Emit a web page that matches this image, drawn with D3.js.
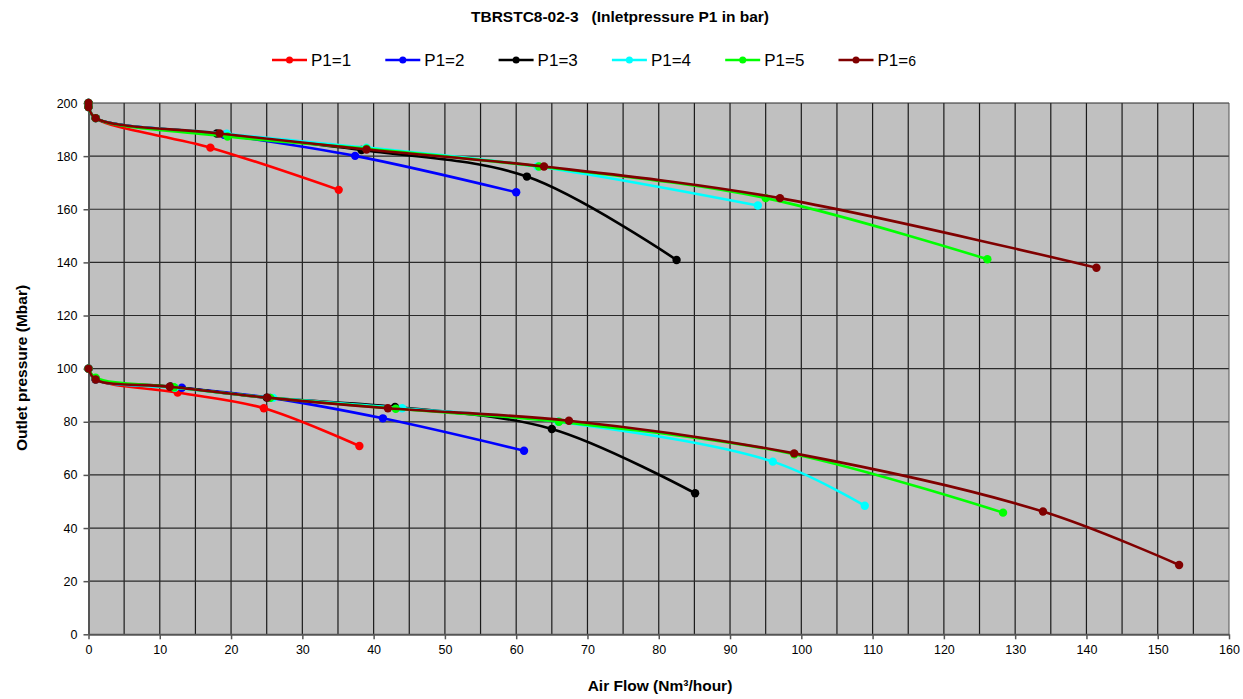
<!DOCTYPE html>
<html lang="en">
<head>
<meta charset="UTF-8">
<title>TBRSTC8-02-3</title>
<script src="https://d3js.org/d3.v7.min.js"></script>
<style>
  body { margin: 0; background: #fff; }
  svg text { font-family: "Liberation Sans", Arial, sans-serif; fill: #000; }
</style>
</head>
<body>
<div id="chart"></div>
<script>
// series labels and colours
const seriesNames = ["P1=1", "P1=2", "P1=3", "P1=4", "P1=5", "P1=6"];
const seriesColors = ["#ff0000", "#0000ff", "#000000", "#00ffff", "#00ff00", "#800000"];

// upper curves (flow, pressure)
const p1Upper = [[0, 200], [0, 198.5], [1, 194.3], [17.1, 183.2], [35.1, 167.3]];
const p2Upper = [[0, 200], [0, 198.5], [1, 194.3], [19, 188], [37.4, 180.1], [60, 166.4]];
const p3Upper = [[0, 200], [0, 198.5], [1, 194.3], [18, 188.5], [38.3, 182.3], [61.5, 172.3], [82.5, 140.9]];
const p4Upper = [[0, 200], [0, 198.5], [1, 194.3], [19.4, 188.4], [39, 183.2], [63, 176.1], [93.9, 161.4]];
const p5Upper = [[0, 200], [0, 198.5], [1, 194.3], [19.5, 187.4], [39, 182.8], [63.2, 176.1], [95, 164.2], [126.1, 141.2]];
const p6Upper = [[0, 200], [0, 198.5], [1, 194.3], [18.4, 188.5], [39, 182.5], [63.9, 176.1], [97, 164.2], [141.4, 138.0]];

// lower curves (flow, pressure)
const p1Lower = [[0, 100], [1, 96], [12.5, 91], [24.6, 85.1], [38, 70.9]];
const p2Lower = [[0, 100], [1, 96], [13.1, 92.8], [25.5, 89], [41.3, 81.3], [61.1, 69.1]];
const p3Lower = [[0, 100], [1, 96], [11.5, 93.3], [25, 89.1], [43, 85.6], [65, 77.3], [85.1, 53.1]];
const p4Lower = [[0, 100], [1, 96], [12.1, 92.8], [25.9, 89], [44, 85.1], [65.9, 80], [96, 65], [108.9, 48.4]];
const p5Lower = [[0, 100], [1, 96.6], [12, 93], [25.5, 89], [43.1, 84.9], [66, 80], [99, 67.8], [128.3, 45.8]];
const p6Lower = [[0, 100], [1, 95.9], [11.4, 93.2], [25.1, 89.1], [42, 85.1], [67.4, 80.4], [99, 68.1], [133.9, 46.2], [153, 26.1]];

const upperSets = [p1Upper, p2Upper, p3Upper, p4Upper, p5Upper, p6Upper];
const lowerSets = [p1Lower, p2Lower, p3Lower, p4Lower, p5Lower, p6Lower];

// axis ticks
const xTicks = d3.range(0, 161, 10);
const xGrid = d3.range(5, 160, 5);
const yTicks = d3.range(0, 201, 20);

const width = 1243, height = 699;
const plotLeft = 88.5, plotRight = 1229, plotTop = 103, plotBottom = 634.3;

const svg = d3.select("#chart").append("svg")
    .attr("width", width)
    .attr("height", height);

const x = d3.scaleLinear().domain([0, 160]).range([plotLeft, plotRight]);
const y = d3.scaleLinear().domain([0, 200]).range([plotBottom, plotTop]);

// plot background
svg.append("rect")
    .attr("x", plotLeft).attr("y", plotTop)
    .attr("width", plotRight - plotLeft).attr("height", plotBottom - plotTop)
    .attr("fill", "#c0c0c0");

// gridlines
svg.append("g").selectAll("line")
    .data(xGrid)
    .enter().append("line")
    .attr("x1", d => x(d)).attr("x2", d => x(d))
    .attr("y1", plotTop).attr("y2", plotBottom)
    .attr("stroke", "#1a1a1a").attr("stroke-width", 1.2);

svg.append("g").selectAll("line")
    .data(yTicks.filter(d => d > 0))
    .enter().append("line")
    .attr("x1", plotLeft).attr("x2", plotRight)
    .attr("y1", d => y(d)).attr("y2", d => y(d))
    .attr("stroke", "#2a2a2a").attr("stroke-width", 1.2);

// axes
const xAxis = svg.append("g")
    .attr("transform", `translate(0,${plotBottom})`)
    .call(d3.axisBottom(x).tickValues(xTicks).tickSize(5).tickPadding(6).tickSizeOuter(0));
const yAxis = svg.append("g")
    .attr("transform", `translate(${plotLeft},0)`)
    .call(d3.axisLeft(y).tickValues(yTicks).tickSize(5).tickPadding(6).tickSizeOuter(0));

[xAxis, yAxis].forEach(ax => {
    ax.select(".domain").attr("stroke", "#555").attr("stroke-width", 2);
    ax.selectAll(".tick line").attr("stroke", "#555").attr("stroke-width", 1.5);
    ax.selectAll(".tick text").attr("font-size", 12.5).attr("fill", "#000")
        .attr("font-family", "'Liberation Sans', Arial, sans-serif");
});

// right border
svg.append("line")
    .attr("x1", plotRight).attr("x2", plotRight).attr("y1", plotTop).attr("y2", plotBottom)
    .attr("stroke", "#555").attr("stroke-width", 1);

// curves
const line = d3.line()
    .x(d => x(d[0]))
    .y(d => y(d[1]))
    .curve(d3.curveCatmullRom.alpha(0.5));

const curves = svg.append("g");
seriesNames.forEach((name, i) => {
    [upperSets[i], lowerSets[i]].forEach(pts => {
        curves.append("path")
            .datum(pts)
            .attr("d", line)
            .attr("fill", "none")
            .attr("stroke", seriesColors[i])
            .attr("stroke-width", 2.6);
        curves.append("g").selectAll("circle")
            .data(pts)
            .enter().append("circle")
            .attr("cx", d => x(d[0]))
            .attr("cy", d => y(d[1]))
            .attr("r", 4.2)
            .attr("fill", seriesColors[i]);
    });
});

// title
svg.append("text")
    .attr("x", 620).attr("y", 22)
    .attr("text-anchor", "middle")
    .attr("font-size", 15.5).attr("font-weight", "bold")
    .attr("xml:space", "preserve")
    .text("TBRSTC8-02-3   (Inletpressure P1 in bar)");

// legend
const legend = svg.append("g");
seriesNames.forEach((name, i) => {
    const lx = 272 + i * 113.3;
    legend.append("line")
        .attr("x1", lx).attr("x2", lx + 35)
        .attr("y1", 60).attr("y2", 60)
        .attr("stroke", seriesColors[i]).attr("stroke-width", 2.6);
    legend.append("circle")
        .attr("cx", lx + 17.5).attr("cy", 60).attr("r", 3.5)
        .attr("fill", seriesColors[i]);
    const t = legend.append("text")
        .attr("x", lx + 39).attr("y", 66)
        .attr("font-size", 17);
    if (i === 5) {
        t.append("tspan").text("P1=");
        t.append("tspan").attr("font-size", 14).text("6");
    } else {
        t.text(name);
    }
});

// axis titles
svg.append("text")
    .attr("x", 660).attr("y", 691)
    .attr("text-anchor", "middle")
    .attr("font-size", 15.5).attr("font-weight", "bold")
    .text("Air Flow (Nm³/hour)");

svg.append("text")
    .attr("transform", "translate(27,368) rotate(-90)")
    .attr("text-anchor", "middle")
    .attr("font-size", 15.5).attr("font-weight", "bold")
    .text("Outlet pressure (Mbar)");
</script>
</body>
</html>
